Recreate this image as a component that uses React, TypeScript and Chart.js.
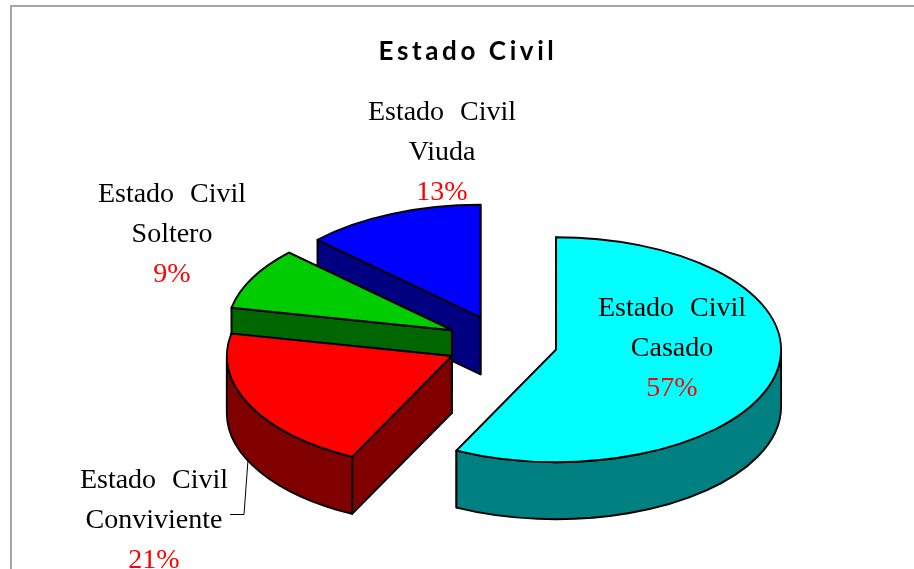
import React, { useEffect, useRef } from "react";
import { Chart } from "chart.js/auto";

const chartTitle = "Estado Civil";
const seriesName = "Estado Civil";
const categories = ["Casado", "Conviviente", "Soltero", "Viuda"];
const values = [57.3, 20.9, 8.9, 12.9];
const topColors = ["#00FFFF", "#FF0000", "#00CC00", "#0000FF"];
const wallColors = ["#008080", "#800000", "#006600", "#000080"];

const ORIGIN_X = 11;
const TILT = 0.5;
const DEPTH = 57;
const RADIUS = 225;
const EXPLODE = [54.5, 57, 57.6, 57];
const PIE_X = 503 - ORIGIN_X;
const PIE_Y = 343.5;

// centre x and first baseline of each label block, page coordinates
const labelX = [672, 154, 172, 442];
const labelY = [316, 488, 202, 120];
const LINE_GAP = 40;

const pie3d = {
  id: "pie3d",
  beforeDraw(chart: any) {
    chart.ctx.letterSpacing = "3.6px";
  },
  beforeDatasetDraw(chart: any, args: any) {
    const ctx = chart.ctx;
    ctx.letterSpacing = "0px";
    const arcs = args.meta.data;
    const ry = (r: number) => r * TILT;
    for (let i = arcs.length - 1; i >= 0; i--) {
      const arc = arcs[i];
      const { startAngle: a0, endAngle: a1, outerRadius: r } = arc;
      const half = (a0 + a1) / 2;
      const dx = Math.cos(half) * EXPLODE[i];
      const dy = Math.sin(half) * EXPLODE[i];
      const cx = PIE_X + dx;
      const cy = PIE_Y + dy * TILT;
      ctx.save();
      ctx.lineWidth = 1.9;
      ctx.lineJoin = "round";
      ctx.strokeStyle = "#000";
      ctx.fillStyle = wallColors[i];
      // the trailing cut face first: the leading one is the face the viewer sees
      for (const a of [a1, a0]) {
        const px = cx + Math.cos(a) * r;
        const py = cy + Math.sin(a) * ry(r);
        ctx.beginPath();
        ctx.moveTo(cx, cy);
        ctx.lineTo(px, py);
        ctx.lineTo(px, py + DEPTH);
        ctx.lineTo(cx, cy + DEPTH);
        ctx.closePath();
        ctx.fill();
        ctx.stroke();
      }
      const s = Math.max(a0, 0);
      const e = Math.min(a1, Math.PI);
      if (s < e) {
        ctx.beginPath();
        ctx.ellipse(cx, cy, r, ry(r), 0, s, e);
        ctx.ellipse(cx, cy + DEPTH, r, ry(r), 0, e, s, true);
        ctx.closePath();
        ctx.fill();
        ctx.stroke();
      }
      ctx.save();
      ctx.translate(PIE_X, PIE_Y);
      ctx.scale(1, TILT);
      ctx.translate(dx, dy);
      ctx.translate(-arc.x, -arc.y);
      arc.draw(ctx);
      ctx.restore();
      ctx.beginPath();
      ctx.moveTo(cx, cy);
      ctx.ellipse(cx, cy, r, ry(r), 0, a0, a1);
      ctx.closePath();
      ctx.stroke();
      ctx.restore();
    }
    return false;
  },
  afterDatasetsDraw(chart: any) {
    const ctx = chart.ctx;
    ctx.save();
    ctx.strokeStyle = "#000";
    ctx.lineWidth = 1;
    ctx.beginPath();
    ctx.moveTo(230 - ORIGIN_X, 514.5);
    ctx.lineTo(244 - ORIGIN_X, 514.5);
    ctx.lineTo(248 - ORIGIN_X, 460);
    ctx.stroke();
    ctx.font = '28px "Liberation Serif"';
    ctx.textAlign = "center";
    ctx.textBaseline = "alphabetic";
    (ctx as any).wordSpacing = "9px";
    categories.forEach((name, i) => {
      const x = labelX[i] - ORIGIN_X;
      const y = labelY[i];
      ctx.fillStyle = "#000";
      ctx.fillText(seriesName, x, y);
      ctx.fillText(name, x, y + LINE_GAP);
      ctx.fillStyle = "#FF0000";
      ctx.fillText(`${Math.round(values[i])}%`, x, y + LINE_GAP * 2);
    });
    ctx.restore();
  },
};

export default function App() {
  const ref = useRef<HTMLCanvasElement>(null);
  useEffect(() => {
    const chart = new Chart(ref.current!, {
      type: "pie",
      data: {
        labels: categories,
        datasets: [
          {
            label: seriesName,
            data: values,
            backgroundColor: topColors,
            borderWidth: 0,
          } as any,
        ],
      },
      options: {
        responsive: false,
        animation: false,
        events: [],
        radius: RADIUS,
        plugins: {
          legend: { display: false },
          tooltip: { enabled: false },
          title: {
            display: true,
            text: chartTitle,
            color: "#000",
            font: { family: "Lato", size: 26, weight: "bold" },
            padding: { top: 36, bottom: 0 },
          },
        },
      } as any,
      plugins: [pie3d],
    });
    return () => chart.destroy();
  }, []);
  return (
    <div style={{ position: "fixed", left: 0, top: 0, width: 914, height: 569, overflow: "hidden", background: "#fff" }}>
      <div
        style={{
          position: "absolute",
          left: 10,
          top: 5,
          width: 1000,
          height: 1000,
          borderLeft: "2px solid #a6a6a6",
          borderTop: "2px solid #a6a6a6",
        }}
      />
      <canvas ref={ref} width={914} height={569} style={{ position: "absolute", left: ORIGIN_X, top: 0, display: "block" }} />
    </div>
  );
}
